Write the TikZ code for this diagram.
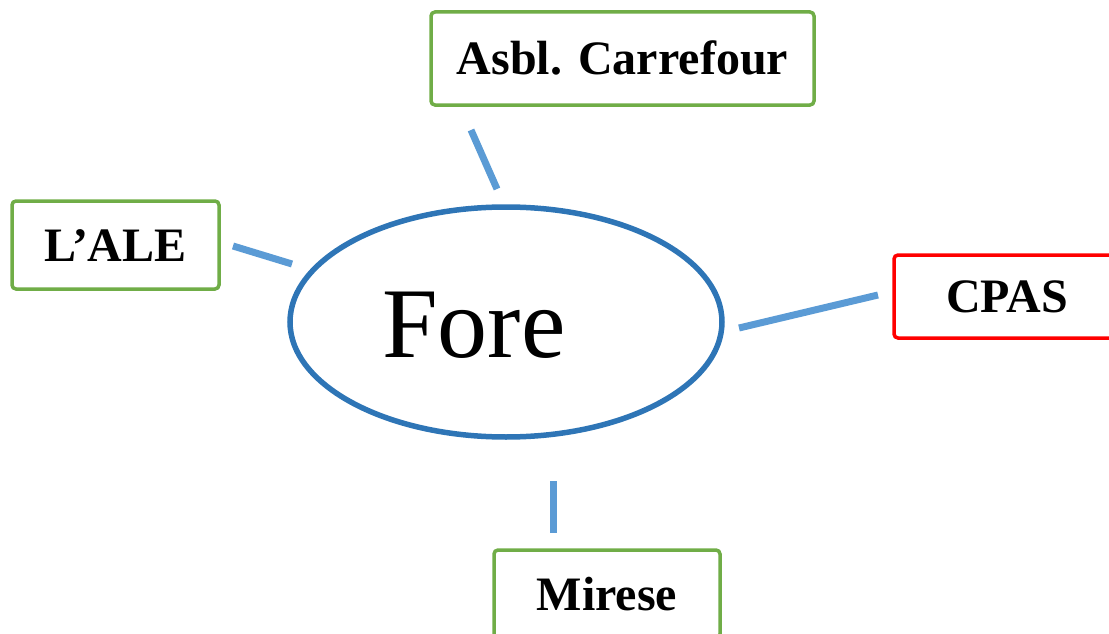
\documentclass[tikz,border=0pt]{standalone}
\usepackage{fontspec}
\setmainfont{Liberation Serif}
\usetikzlibrary{shapes.geometric}
\definecolor{boxgreen}{HTML}{70AD47}
\definecolor{boxred}{HTML}{FF0000}
\definecolor{ringblue}{HTML}{2E75B6}
\definecolor{linkblue}{HTML}{5B9BD5}
\tikzset{
  orgbox/.style={draw=boxgreen, line width=3.5pt, rounded corners=4pt, fill=white,
    inner sep=0pt, text height=32pt, text depth=0pt,
    font=\fontsize{48}{48}\selectfont\bfseries},
  link/.style={draw=linkblue, line width=7pt},
}
\begin{document}
\begin{tikzpicture}[x=1pt,y=-1pt]
\useasboundingbox (0,0) rectangle (1109,634);
\clip (0,0) rectangle (1109,634);
% central ellipse
\node[ellipse, draw=ringblue, line width=5.5pt, minimum width=432pt, minimum height=230pt, inner sep=0pt] (fore) at (506,322) {};
\node[anchor=base, font=\fontsize{100}{100}\selectfont] (foretext) at (474,357) {Fore};
% boxes
\node[orgbox, minimum width=383pt, minimum height=93pt] (carrefour) at (622.5,58.5) {Asbl. Carrefour};
\node[orgbox, minimum width=207pt, minimum height=88pt] (ale) at (115.5,245) {L’ALE};
\node[orgbox, draw=boxred, minimum width=226pt, minimum height=83pt] (cpas) at (1007,296.5) {CPAS};
\node[orgbox, minimum width=226pt, minimum height=88pt] (mirese) at (607,594) {Mirese};
% connectors
\coordinate (c1a) at (497,189); \coordinate (c1b) at (471,130);
\coordinate (c2a) at (292,264); \coordinate (c2b) at (233,246);
\coordinate (c3a) at (739,328); \coordinate (c3b) at (878,295);
\coordinate (c4a) at (553,481); \coordinate (c4b) at (553,533);
\draw[link] (c1a) -- (c1b);
\draw[link] (c2a) -- (c2b);
\draw[link] (c3a) -- (c3b);
\draw[link] (c4a) -- (c4b);
\end{tikzpicture}
\end{document}
